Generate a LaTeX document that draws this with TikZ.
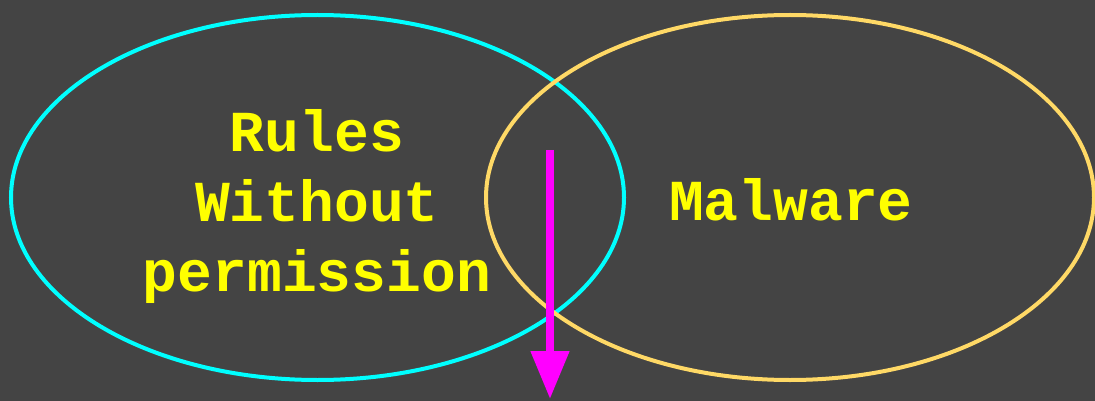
\documentclass[tikz,border=0pt]{standalone}
\usepackage{fontspec}
\setmonofont{Liberation Mono}
\usetikzlibrary{shapes.geometric,arrows.meta}
\definecolor{bg}{HTML}{444444}
\definecolor{cyanc}{HTML}{00FFFF}
\definecolor{goldc}{HTML}{FFD966}
\definecolor{textc}{HTML}{FFFF00}
\definecolor{magc}{HTML}{FF00FF}
\tikzset{
  setellipse/.style={ellipse, draw, line width=4pt, inner sep=0pt},
  label text/.style={text=textc, font=\ttfamily\bfseries\fontsize{58}{70}\selectfont, align=center, inner sep=0pt},
  arrowline/.style={draw=magc, line width=8pt, -{Triangle[length=48pt,width=37pt]}}
}
\begin{document}
\begin{tikzpicture}[x=1pt,y=-1pt]
\fill[bg] (0,0) rectangle (1095,401);
\useasboundingbox (0,0) rectangle (1095,401);
\node[setellipse, draw=cyanc, minimum width=613pt, minimum height=365pt] (rules) at (317.5,197.5) {};
\node[setellipse, draw=goldc, minimum width=608pt, minimum height=365pt] (malware) at (790,197.5) {};
\node[label text] (rulestext) at (317,207) {Rules\\Without\\permission};
\node[label text, anchor=base] (malwaretext) at (791,220) {Malware};
\coordinate (astart) at (550,150);
\coordinate (aend) at (550,399);
\draw[arrowline] (astart) -- (aend);
\end{tikzpicture}
\end{document}
